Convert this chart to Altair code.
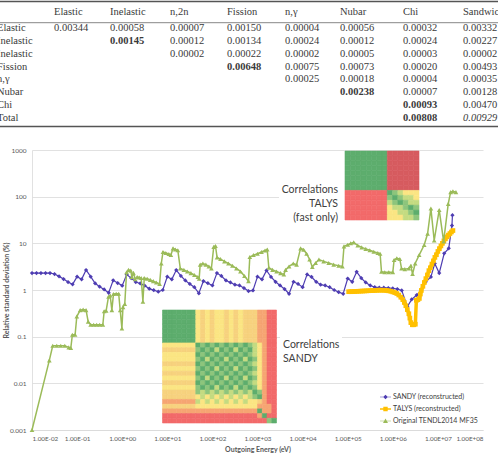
import altair as alt
import pandas as pd

SANS = "Lato"
SERIF = "Liberation Serif"

# ---------------- summary table ----------------
table_columns = ["Elastic", "Inelastic", "n,2n", "Fission", "n,γ", "Nubar", "Chi", "Sandwich"]
table_rows = ["Elastic", "Inelastic", "Inelastic", "Fission", "n,γ", "Nubar", "Chi", "Total"]
table_values = [
    [0.00344, 0.00058, 0.00007, 0.00150, 0.00004, 0.00056, 0.00032, 0.00332],
    [None, 0.00145, 0.00012, 0.00134, 0.00024, 0.00012, 0.00024, 0.00227],
    [None, None, 0.00002, 0.00022, 0.00002, 0.00005, 0.00003, 0.00002],
    [None, None, None, 0.00648, 0.00075, 0.00073, 0.00020, 0.00493],
    [None, None, None, None, 0.00025, 0.00018, 0.00004, 0.00035],
    [None, None, None, None, None, 0.00238, 0.00007, 0.00128],
    [None, None, None, None, None, None, 0.00093, 0.00470],
    [None, None, None, None, None, None, 0.00808, 0.00929],
]
bold_cells = [(1, 1), (3, 3), (5, 5), (6, 6), (7, 6)]
italic_cells = [(7, 7)]

# ---------------- relative standard deviation curves ----------------
series_names = ["SANDY (reconstructed)", "TALYS (reconstructed)", "Original TENDL2014 MF35"]
series_colors = ["#4E3DB2", "#FFC000", "#9BBB59"]

sandy_energy = [
    1.0e-2, 1.26e-2, 1.58e-2, 2.0e-2, 2.51e-2, 3.16e-2, 3.98e-2, 5.01e-2, 6.31e-2, 7.94e-2,
    0.1, 0.126, 0.158, 0.2, 0.251, 0.316, 0.398, 0.501, 0.631, 0.794,
    1.0, 1.26, 1.58, 2.0, 2.51, 3.16, 3.98, 5.01, 6.31, 7.94,
    10.0, 12.6, 15.8, 20.0, 25.1, 31.6, 39.8, 50.1, 63.1, 79.4,
    100.0, 126.0, 158.0, 200.0, 251.0, 316.0, 398.0, 501.0, 631.0, 794.0,
    1000.0, 1259.0, 1585.0, 1995.0, 2512.0, 3162.0, 3981.0, 5012.0, 6310.0, 7943.0,
    1.0e4, 1.26e4, 1.58e4, 2.0e4, 2.51e4, 3.16e4, 3.98e4, 5.01e4, 6.31e4, 7.94e4,
    1.0e5, 1.26e5, 1.58e5, 2.0e5, 2.51e5, 3.16e5, 3.98e5, 5.01e5, 6.31e5, 7.94e5,
    1.0e6, 1.26e6, 1.58e6, 2.1e6, 2.63e6, 3.39e6, 4.27e6, 5.37e6, 6.99e6, 8.51e6,
    1.07e7, 1.38e7, 1.74e7, 2.05e7, 2.1e7,
]
sandy_rsd = [
    2.31, 2.31, 2.31, 2.31, 2.31, 2.2, 1.96, 1.72, 1.48, 1.32,
    1.93, 1.69, 2.68, 1.93, 1.39, 1.18, 1.03, 0.87, 1.61, 1.41,
    1.24, 2.15, 1.8, 1.48, 1.38, 1.24, 1.07, 0.99, 0.92, 1.0,
    1.93, 1.69, 2.68, 2.0, 1.6, 1.35, 1.15, 0.85, 1.55, 1.4,
    1.25, 2.3, 2.0, 1.6, 1.45, 1.3, 1.25, 1.1, 0.95, 0.98,
    1.93, 1.69, 2.63, 1.9, 1.5, 1.25, 1.05, 0.83, 1.5, 1.35,
    1.15, 2.16, 1.9, 1.5, 1.3, 1.25, 1.15, 1.0, 0.9, 0.83,
    1.76, 1.5, 2.45, 1.8, 1.45, 1.25, 1.15, 1.12, 1.12, 1.1,
    1.08, 1.05, 0.98, 0.44, 0.63, 0.78, 1.0, 1.5, 1.9, 3.7,
    2.3, 6.1, 7.8, 24.0, 40.0,
]

talys_energy = [
    1.05e5, 1.17e5, 1.29e5, 1.43e5, 1.58e5, 1.75e5, 1.95e5, 2.15e5, 2.39e5, 2.64e5,
    2.93e5, 3.24e5, 3.60e5, 3.98e5, 4.41e5, 4.89e5, 5.41e5, 6.0e5, 6.64e5, 7.36e5,
    8.15e5, 9.04e5, 1.0e6, 1.107e6, 1.227e6, 1.358e6, 1.507e6, 1.667e6, 1.803e6, 1.945e6,
    2.099e6, 2.27e6, 2.388e6, 2.512e6, 2.71e6, 2.931e6, 3.162e6, 3.327e6, 3.597e6, 3.882e6,
    4.083e6, 4.295e6, 4.645e6, 5.012e6, 5.408e6, 5.848e6, 6.31e6, 6.808e6, 7.362e6, 7.943e6,
    8.57e6, 9.268e6, 1.0e7, 1.079e7, 1.167e7, 1.259e7, 1.358e7, 1.469e7, 1.585e7, 1.71e7,
    1.849e7, 1.995e7, 2.153e7,
]
talys_rsd = [
    0.92, 0.92, 0.925, 0.93, 0.935, 0.94, 0.945, 0.95, 0.955, 0.96,
    0.965, 0.97, 0.975, 0.98, 0.985, 0.99, 0.99, 0.99, 0.985, 0.975,
    0.96, 0.94, 0.91, 0.88, 0.84, 0.78, 0.70, 0.62, 0.54, 0.46,
    0.38, 0.31, 0.25, 0.20, 0.18, 0.18, 0.185, 0.60, 0.62, 0.66,
    0.82, 0.98, 1.2, 1.45, 1.75, 2.1, 2.6, 3.0, 3.6, 4.2,
    5.0, 5.7, 6.7, 7.7, 8.8, 10.0, 11.3, 12.5, 13.8, 15.0,
    16.2, 17.5, 18.8,
]

tendl_energy = [
    1.0e-2, 2.42e-2, 2.88e-2, 3.54e-2, 4.34e-2, 5.33e-2, 6.54e-2, 7.25e-2, 7.86e-2, 9.03e-2,
    9.85e-2, 0.117, 0.136, 0.158, 0.176, 0.2, 0.233, 0.271, 0.316, 0.372,
    0.398, 0.441, 0.497, 0.541, 0.59, 0.641, 0.736, 0.836, 0.903, 0.985,
    1.04, 1.14, 1.25, 1.38, 1.55, 1.64, 1.78, 1.94, 2.15, 2.39,
    2.64, 2.88, 3.08, 3.59, 4.19, 4.89, 5.7, 6.75, 7.36, 8.02,
    9.27, 10.8, 12.0, 13.4, 15.1, 17.1, 19.4, 23.3, 27.8, 33.3,
    39.8, 47.6, 50.9, 53.6, 61.5, 71.7, 83.6, 95.0, 107.0, 117.0,
    127.0, 151.0, 185.0, 227.0, 278.0, 341.0, 419.0, 514.0, 631.0, 675.0,
    815.0, 1000.0, 1227.0, 1468.0, 1643.0, 1784.0, 2154.0, 2643.0, 3243.0, 3838.0,
    4190.0, 5012.0, 6209.0, 7356.0, 9027.0, 1.052e4, 1.227e4, 1.431e4, 1.643e4, 1.944e4,
    2.303e4, 2.929e4, 3.784e4, 4.887e4, 6.31e4, 7.625e4, 8.276e4, 1.0e5, 1.166e5, 1.359e5,
    1.668e5, 2.046e5, 2.512e5, 3.082e5, 3.784e5, 4.642e5, 5.228e5, 5.614e5, 6.638e5, 8.147e5,
    1.0e6, 1.069e6, 1.227e6, 1.431e6, 1.56e6, 1.849e6, 2.268e6, 2.512e6, 2.741e6, 3.133e6,
    3.838e6, 4.966e6, 5.902e6, 6.99e6, 8.28e6, 1.069e7, 1.34e7, 1.694e7, 1.914e7, 2.154e7,
    2.512e7,
]
tendl_rsd = [
    0.001, 0.031, 0.064, 0.064, 0.064, 0.064, 0.059, 0.057, 0.11, 0.11,
    0.27, 0.37, 0.38, 0.37, 0.21, 0.18, 0.18, 0.18, 0.18, 0.18,
    0.35, 0.36, 0.72, 0.76, 0.37, 0.82, 0.83, 0.83, 0.37, 0.15,
    0.43, 0.5, 2.4, 2.7, 2.6, 1.9, 2.3, 1.7, 1.9, 1.85,
    1.8, 0.56, 1.8, 1.75, 1.65, 1.55, 1.45, 1.35, 3.7, 6.5,
    6.2, 5.9, 5.6, 7.8, 7.4, 7.1, 2.9, 2.7, 2.5, 2.3,
    2.1, 1.9, 1.75, 3.5, 3.7, 3.5, 3.2, 2.9, 8.4, 8.8,
    5.0, 4.6, 4.1, 3.7, 3.3, 2.9, 2.5, 2.0, 1.55, 5.1,
    5.6, 6.0, 6.5, 7.0, 7.4, 3.0, 2.7, 2.5, 2.3, 2.15,
    2.7, 3.2, 3.7, 3.5, 7.8, 7.3, 6.0, 4.5, 3.1, 3.8,
    4.5, 4.1, 3.8, 3.5, 3.3, 3.2, 8.6, 9.3, 10.0, 10.5,
    9.0, 8.2, 7.6, 7.1, 6.6, 6.2, 6.0, 2.45, 2.4, 2.4,
    2.4, 4.4, 4.8, 4.6, 2.9, 2.8, 2.9, 3.3, 2.2, 3.7,
    5.6, 9.2, 16.0, 56.0, 11.5, 52.0, 11.0, 70.0, 125.0, 130.0,
    125.0,
]

x_tick_values = [1e-2, 1e-1, 1e0, 1e1, 1e2, 1e3, 1e4, 1e5, 1e6, 1e7, 1e8]
x_tick_labels = ["1.00E-02", "1.00E-01", "1.00E+00", "1.00E+01", "1.00E+02", "1.00E+03",
                 "1.00E+04", "1.00E+05", "1.00E+06", "1.00E+07", "1.00E+08"]
y_tick_values = [1e-3, 1e-2, 1e-1, 1e0, 1e1, 1e2, 1e3]
y_tick_labels = ["0.001", "0.01", "0.1", "1", "10", "100", "1000"]

# ---------------- correlation matrix insets ----------------
corr_codes = ["G", "g", "l", "y", "Y", "o", "r", "R"]
corr_colors = ["#5DAD6D", "#8DC57C", "#C4DB81", "#FBE583", "#F7D27E", "#F6A572", "#F26A6A", "#D65B5F"]

talys_matrix = [
    "GGGGGGGGRRRRRR",
    "GGGGGGGGRRRRRR",
    "GGGGGGGGRRRRRR",
    "GGGGGGGGRRRRRR",
    "GGGGGGGGRRRRRR",
    "GGGGGGGGRRRRRR",
    "GGGGGGGGRRRRRR",
    "GGGGGGGGRRRRRR",
    "rrrrrrrrGglyyy",
    "rrrrrrrrgGglly",
    "rrrrrrrrlgGgll",
    "rrrrrrrryllgGg",
    "rrrrrrrryyllgG",
    "rrrrrrrryyyllg",
]

sandy_matrix = [
    "GGGGGGGyYyYyyYyYyYYYoorr",
    "GGGGGGGyYyYyyYyYyYYYoorr",
    "GGGGGGGyYyYyyYyYyYYYoorr",
    "GGGGGGGyYyYyyYyYyYYYoorr",
    "GGGGGGGyYyYyyYyYyYYYoorr",
    "GGGGGGGyYyYyyYyYyYYYoorr",
    "GGGGGGGyYyYyyYyYyYYYoorr",
    "yyyyyyyGgGgGgGgGgGglyorr",
    "YYYYYYYgGgGlGgGlGgGlyorr",
    "yyyyyyyGgGgGgGgGgGglyorr",
    "yyyyyyygGlGgGlGgGlGgyorr",
    "YYYYYYYGgGgGgGgGgGglyorr",
    "yyyyyyygGgGlGgGlGgGgyorr",
    "YYYYYYYGgGgGgGgGgGglyorr",
    "yyyyyyygGlGgGlGgGlGgyorr",
    "YYYYYYYGgGgGgGgGgGglyorr",
    "yyyyyyygGgGlGgGlGgGgyorr",
    "YYYYYYYglglglglglglGgorr",
    "YYYYYYYylylylylylylgGorr",
    "ooooooolylylylylylyyYorr",
    "YYYYYYYyyyyyyyyyyyyyooor",
    "ooooooooooooooooooooGoor",
    "rrrrrrrrrrrrrrrrrrrroGrr",
    "rrrrrrrrrrrrrrrrrrrrrrgG",
]

# plot area is 451 x 280, its origin sits at (32, 150) of the page
PLOT_W, PLOT_H = 451, 280


def table_frame():
    cells = []
    for c, name in enumerate(table_columns):
        cells.append({"col": c + 1, "row": 0, "text": name, "style": "normal"})
    for r, name in enumerate(table_rows):
        cells.append({"col": 0, "row": r + 1, "text": name, "style": "normal"})
    for r, row in enumerate(table_values):
        for c, v in enumerate(row):
            if v is None:
                continue
            style = "bold" if (r, c) in bold_cells else ("italic" if (r, c) in italic_cells else "normal")
            cells.append({"col": c + 1, "row": r + 1, "text": f"{v:.5f}", "style": style})
    return pd.DataFrame(cells)


table_df = table_frame()
table_x = alt.Scale(domain=list(range(9)), range=[-35, 22, 78, 138, 195, 253, 308, 371, 431],
                    nice=False, zero=False)
table_y = alt.Scale(domain=[0, 1, 8], range=[-138, -122, -32], nice=False, zero=False)


def table_text(style, **kw):
    return alt.Chart(table_df).transform_filter(alt.datum.style == style).mark_text(
        align="left", baseline="middle", font=SERIF, fontSize=10.5, color="#3A3A3A", **kw
    ).encode(
        x=alt.X("col:Q", scale=table_x, axis=None),
        y=alt.Y("row:Q", scale=table_y, axis=None),
        text="text:N",
    )


one = pd.DataFrame({"k": [0]})


def hrule(y, width):
    return alt.Chart(one).mark_rule(color="#555555", strokeWidth=width).encode(
        x=alt.value(-32), x2=alt.value(466), y=alt.value(y)
    )


table_layer = alt.layer(
    hrule(-148.5, 1.4), hrule(-127.3, 0.7), hrule(-23.5, 1.4),
    table_text("normal"),
    table_text("bold", fontWeight="bold"),
    table_text("italic", fontStyle="italic"),
)


def heatmap(rows, x_range, y_range):
    n = len(rows)
    cells = [{"i": i, "j": j, "i2": i + 1, "j2": j + 1, "code": ch}
             for i, row in enumerate(rows) for j, ch in enumerate(row)]
    cscale = alt.Scale(domain=corr_codes, range=corr_colors)
    return alt.Chart(pd.DataFrame(cells)).mark_rect(strokeWidth=0.6).encode(
        x=alt.X("j:Q", scale=alt.Scale(domain=[0, n], range=x_range, nice=False, zero=False), axis=None),
        x2="j2:Q",
        y=alt.Y("i:Q", scale=alt.Scale(domain=[0, n], range=y_range, nice=False, zero=False), axis=None),
        y2="i2:Q",
        color=alt.Color("code:N", scale=cscale, legend=None),
        stroke=alt.Stroke("code:N", scale=cscale, legend=None),
    )


# ---------------- curves ----------------
label_color = "#595959"
x_expr = "[" + ",".join(f"'{s}'" for s in x_tick_labels) + "][round(log(datum.value) / LN10) + 2]"
y_expr = "[" + ",".join(f"'{s}'" for s in y_tick_labels) + "][round(log(datum.value) / LN10) + 3]"

x_enc = alt.X(
    "energy:Q",
    scale=alt.Scale(type="log", domain=[1e-2, 1e8], nice=False),
    axis=alt.Axis(
        orient="bottom", values=x_tick_values, labelExpr=x_expr, grid=False, ticks=False, tickSize=0,
        domain=True, domainColor="#D9D9D9", domainWidth=0.8,
        labelFont=SANS, labelFontSize=6.3, labelColor=label_color, labelPadding=5,
        title="Outgoing Energy (eV)", titleFont=SANS, titleFontSize=7, titleFontWeight="bold",
        titleColor=label_color, titleY=19, titleBaseline="middle",
    ),
)
y_enc = alt.Y(
    "rsd:Q",
    scale=alt.Scale(type="log", domain=[1e-3, 1e3], nice=False),
    axis=alt.Axis(
        orient="left", values=y_tick_values, labelExpr=y_expr, grid=True, gridColor="#D9D9D9",
        gridWidth=0.8, ticks=False, tickSize=0, domain=True, domainColor="#D9D9D9", domainWidth=0.8,
        labelFont=SANS, labelFontSize=6.5, labelColor=label_color, labelPadding=6,
        title="Relative standard deviation (%)", titleFont=SANS, titleFontSize=7,
        titleFontWeight="bold", titleColor=label_color, titleX=-26, titleY=140,
        titleAngle=270, titleAlign="center", titleBaseline="middle",
    ),
)


def curve(energy, rsd, color, line_width, shape, size):
    base = alt.Chart(pd.DataFrame({"energy": energy, "rsd": rsd}))
    line = base.mark_line(color=color, strokeWidth=line_width).encode(x=x_enc, y=y_enc)
    pts = base.mark_point(shape=shape, filled=True, size=size, color=color, opacity=1).encode(x=x_enc, y=y_enc)
    return line + pts


curves = alt.layer(
    curve(sandy_energy, sandy_rsd, series_colors[0], 1.2, "diamond", 18),
    curve(talys_energy, talys_rsd, series_colors[1], 3.5, "square", 22),
    curve(tendl_energy, tendl_rsd, series_colors[2], 1.5, "triangle-up", 22),
)

# legend entries: line segment with the series marker on it
legend_paths = [
    "M-1,-0.055H1V0.055H-1Z M0,-0.42L0.42,0L0,0.42L-0.42,0Z",
    "M-1,-0.14H1V0.14H-1Z M-0.4,-0.4H0.4V0.4H-0.4Z",
    "M-1,-0.065H1V0.065H-1Z M0,-0.45L0.45,0.35H-0.45Z",
]
legend_def = alt.Legend(
    title=None, orient="none", legendX=348, legendY=242, symbolSize=121, symbolStrokeWidth=0,
    labelFont=SANS, labelFontSize=7, labelColor="#404040", labelOffset=2, rowPadding=2,
    clipHeight=10, padding=0,
)
legend_layer = alt.Chart(pd.DataFrame({"series": series_names})).transform_filter("false").mark_point(
    filled=True, opacity=1
).encode(
    shape=alt.Shape("series:N", scale=alt.Scale(domain=series_names, range=legend_paths), legend=legend_def),
    fill=alt.Fill("series:N", scale=alt.Scale(domain=series_names, range=series_colors), legend=legend_def),
)

# ---------------- inset captions ----------------
def white_box(x, x2, y, y2):
    return alt.Chart(one).mark_rect(color="white").encode(
        x=alt.value(x), x2=alt.value(x2), y=alt.value(y), y2=alt.value(y2)
    )


talys_caption = alt.Chart(one).mark_text(
    text=["Correlations", "TALYS", "(fast only)"], align="right", baseline="middle",
    lineHeight=14.2, font=SANS, fontSize=10.5, color="#404040",
).encode(x=alt.value(306), y=alt.value(40))
sandy_caption = alt.Chart(one).mark_text(
    text=["Correlations", "SANDY"], align="left", baseline="middle",
    lineHeight=14, font=SANS, fontSize=10.5, color="#404040",
).encode(x=alt.value(251), y=alt.value(195))

chart = alt.layer(
    white_box(247, 313, 15, 64),
    white_box(248, 310, 181, 195),
    heatmap(talys_matrix, [313, 387], [1, 70]),
    heatmap(sandy_matrix, [130.5, 244.5], [160, 273]),
    curves,
    talys_caption,
    sandy_caption,
    table_layer,
    legend_layer,
).resolve_scale(
    x="independent", y="independent"
).properties(
    width=PLOT_W, height=PLOT_H,
    padding={"left": 32, "top": 150, "right": 15, "bottom": 23},
    autosize=alt.AutoSizeParams(type="none"),
    background="white",
).configure_view(stroke=None)

chart.save("out.html", embed_options={"renderer": "svg", "actions": False})
